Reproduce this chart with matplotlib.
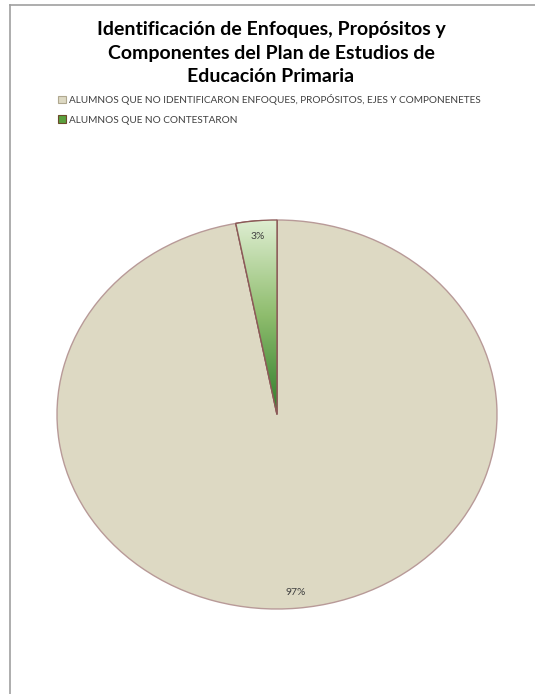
import numpy as np
import matplotlib.pyplot as plt
from matplotlib.patches import Patch
from matplotlib.lines import Line2D
from matplotlib.colors import LinearSegmentedColormap

plt.rcParams['font.family'] = ['Lato', 'DejaVu Sans']

# datos del grafico
categorias = ['ALUMNOS QUE NO IDENTIFICARON ENFOQUES, PROPÓSITOS, EJES Y COMPONENETES',
              'ALUMNOS QUE NO CONTESTARON']
valores = [97, 3]
colores = ['#ddd9c3', '#7db35f']
titulo = 'Identificación de Enfoques, Propósitos y\nComponentes del Plan de Estudios de\nEducación Primaria'

W, H = 535, 694
fig = plt.figure(figsize=(W / 100, H / 100), dpi=100)
fig.patch.set_facecolor('white')

# marco gris (solo arriba e izquierda visibles)
fig.add_artist(Line2D([10 / W, 1], [1 - 5 / H, 1 - 5 / H], color='#a0a0a0', lw=1.2))
fig.add_artist(Line2D([10 / W, 10 / W], [0, 1 - 5 / H], color='#a0a0a0', lw=1.2))

fig.text(271 / W, 1 - 53 / H, titulo, ha='center', va='center', fontsize=14,
         fontweight='bold', color='black', linespacing=1.45)

# pastel eliptico
ax = fig.add_axes([57 / W, (H - 609) / H, 440 / W, 389 / H])
wedges, textos, autotextos = ax.pie(valores, colors=colores, startangle=90, counterclock=False,
                                    autopct='%1.0f%%', pctdistance=0.92,
                                    wedgeprops=dict(edgecolor='#8c5a58', linewidth=1.0),
                                    textprops=dict(fontsize=7.5, color='#404040'))
ax.set_aspect('auto')
wedges[0].set_edgecolor('#b89a98')

# degradado verde en la rebanada pequena
grad = np.linspace(0, 1, 256).reshape(-1, 1)
cmap = LinearSegmentedColormap.from_list('verde', ['#2f7d2b', '#8fbd6e', '#e2f0d6'])
img = ax.imshow(grad, extent=[-0.3, 0.05, 0, 1.02], origin='lower', cmap=cmap,
                aspect='auto', zorder=wedges[1].get_zorder() + 0.1)
img.set_clip_path(wedges[1])
borde = plt.Polygon(wedges[1].get_path().vertices, closed=True, fill=False,
                    edgecolor='#8c5a58', lw=1.0, zorder=img.get_zorder() + 0.1,
                    transform=wedges[1].get_transform())
ax.add_patch(borde)
for t in autotextos:
    t.set_zorder(10)
ax.set_xlim(-1, 1)
ax.set_ylim(-1, 1)

manijas = [Patch(facecolor=colores[0], edgecolor='#b0a890', lw=0.8),
           Patch(facecolor='#5aa03e', edgecolor='#6b4a2a', lw=0.8)]
fig.legend(manijas, categorias, loc='upper left', bbox_to_anchor=(58 / W, 1 - 94 / H),
           frameon=False, fontsize=7.2, handlelength=0.8, handleheight=0.8,
           handletextpad=0.3, labelspacing=1.05, borderaxespad=0, borderpad=0,
           labelcolor='#404040')

fig.savefig('out.png', dpi=100, facecolor='white')
